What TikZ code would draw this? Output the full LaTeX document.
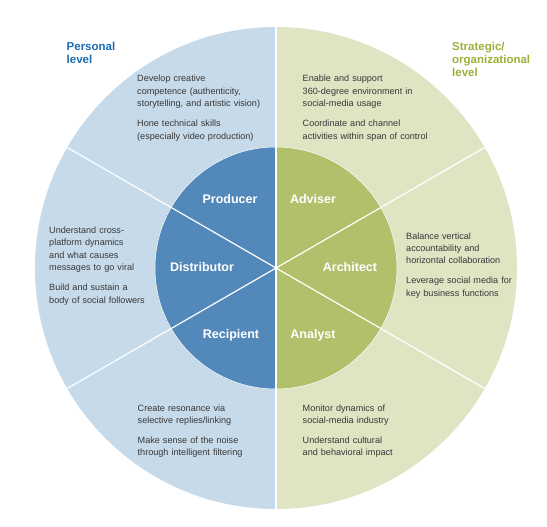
\documentclass[tikz,border=0pt]{standalone}
\usepackage{fontspec}
\setmainfont{Liberation Sans}
\definecolor{outerblue}{HTML}{C6DAE9}
\definecolor{outergreen}{HTML}{DFE4C3}
\definecolor{innerblue}{HTML}{5289BA}
\definecolor{innergreen}{HTML}{B3C06B}
\definecolor{headblue}{HTML}{1D6CB1}
\definecolor{headgreen}{HTML}{9BB03D}
\definecolor{bodygray}{HTML}{383838}
\tikzset{
  body/.style={font=\fontsize{9.1}{12.4}\selectfont, text=bodygray, align=left,
    text width=150pt, inner sep=0pt, anchor=base west},
  role/.style={font=\bfseries\fontsize{12.5}{14}\selectfont, text=white,
    inner sep=0pt, anchor=base},
  headtext/.style={font=\bfseries\fontsize{11.5}{13}\selectfont, align=left,
    text width=100pt, inner sep=0pt, anchor=base west},
  divider/.style={draw=white, line width=1.2pt},
}
\begin{document}
\begin{tikzpicture}[x=1pt, y=-1pt]
\useasboundingbox (0,0) rectangle (547,527);
\coordinate (C) at (276,268);
% outer ring halves
\fill[outerblue] (C) ++(90:241) arc[start angle=90, end angle=270, radius=241] -- cycle;
\fill[outergreen] (C) ++(-90:241) arc[start angle=-90, end angle=90, radius=241] -- cycle;
% inner circle halves
\fill[innerblue] (C) ++(90:121) arc[start angle=90, end angle=270, radius=121] -- cycle;
\fill[innergreen] (C) ++(-90:121) arc[start angle=-90, end angle=90, radius=121] -- cycle;
\draw[white, line width=0.5pt] (C) circle[radius=121];
% dividers
\foreach \a in {90,270,30,150,210,330}
  \draw[divider] (C) -- ++(\a:241);
% headings
\node[headtext, text=headblue] (personal) at (66.5,51) {Personal\\level};
\node[headtext, text=headgreen] (strategic) at (452,51) {Strategic/\\organizational\\level};
% role labels
\node[role] (producer) at (230,204) {Producer};
\node[role] (adviser) at (313,204) {Adviser};
\node[role] (distributor) at (202,271) {Distributor};
\node[role] (architect) at (350,271) {Architect};
\node[role] (recipient) at (231,338) {Recipient};
\node[role] (analyst) at (313,338) {Analyst};
% descriptions
\node[body] (tl) at (137,82) {Develop creative\\competence (authenticity,\\storytelling, and artistic vision)\\[7.5pt]Hone technical skills\\(especially video production)};
\node[body] (tr) at (302.5,82) {Enable and support\\360-degree environment in\\social-media usage\\[7.5pt]Coordinate and channel\\activities within span of control};
\node[body] (ml) at (49,233.5) {Understand cross-\\platform dynamics\\and what causes\\messages to go viral\\[7.5pt]Build and sustain a\\body of social followers};
\node[body] (mr) at (406,239) {Balance vertical\\accountability and\\horizontal collaboration\\[7.5pt]Leverage social media for\\key business functions};
\node[body] (bl) at (137.5,411) {Create resonance via\\selective replies/linking\\[7.5pt]Make sense of the noise\\through intelligent filtering};
\node[body] (br) at (302.5,411) {Monitor dynamics of\\social-media industry\\[7.5pt]Understand cultural\\and behavioral impact};
\end{tikzpicture}
\end{document}
